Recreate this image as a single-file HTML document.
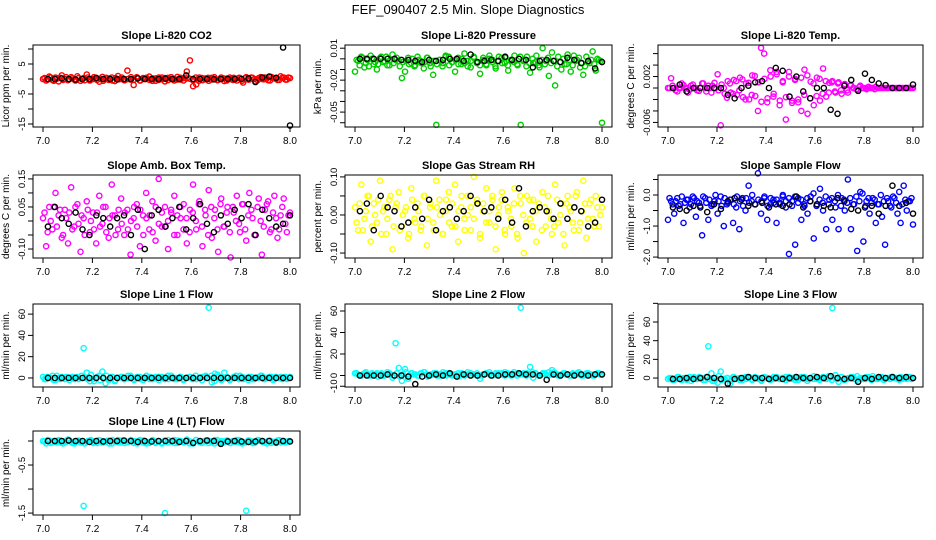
<!DOCTYPE html>
<html><head><meta charset="utf-8"><style>
body{margin:0;background:#fff}
svg{display:block;font-family:"Liberation Sans",sans-serif}
</style></head><body>
<svg id="c" width="936" height="540" viewBox="0 0 936 540">
<rect width="936" height="540" fill="#fff"/>
<text x="468" y="14" text-anchor="middle" font-size="13">FEF_090407  2.5 Min. Slope Diagnostics</text>
</svg>
<script>
const titles=["Slope Li-820 CO2","Slope Li-820 Pressure","Slope Li-820 Temp.","Slope Amb. Box Temp.","Slope Gas Stream RH","Slope Sample Flow","Slope Line 1 Flow","Slope Line 2 Flow","Slope Line 3 Flow","Slope Line 4 (LT) Flow"];
const yTitles=["Licor ppm per min.","kPa per min.","degrees C per min.","degrees C per min.","percent per min.","ml/min per min.","ml/min per min.","ml/min per min.","ml/min per min.","ml/min per min."];
const colors=["#ff0000","#00cc00","#ff00ff","#ff00ff","#ffff00","#0000ff","#00ffff","#00ffff","#00ffff","#00ffff"];
const xTicks=[7.0,7.2,7.4,7.6,7.8,8.0];
const yTickVals=[[10,5,0,-5,-10,-15],[0.01,0,-0.01,-0.02,-0.03,-0.04,-0.05,-0.06],[0.006,0.004,0.002,0,-0.002,-0.004,-0.006],[0.15,0.1,0.05,0,-0.05,-0.1],[0.1,0.05,0,-0.05,-0.1],[0.5,0,-0.5,-1,-1.5,-2],[60,40,20,0],[60,40,20,0,-10],[80,60,40,20,0],[0,-0.5,-1,-1.5]];
const yTickLabels=[["","5","","-5","","-15"],["0.01","","","-0.02","","","-0.05",""],["","","0.002","","","","-0.006"],["0.15","","0.05","","","-0.10"],["0.10","","0.00","","-0.10"],["","0.0","","-1.0","","-2.0"],["60","40","20","0"],["60","40","20","0","-10"],["","60","40","20","0"],["","-0.5","","-1.5"]];
const yDomains=[[11.33,-16],[0.013,-0.064],[0.0075,-0.0068],[0.164,-0.132],[0.105,-0.113],[0.645,-2.03],[69.5,-8.5],[66.5,-10.7],[79.3,-9.6],[0.208,-1.54]];
const xMin=7.0,xMax=8.0;
const colSeries=[
[0,-.5,.8,-.3,.5,-.8,1.2,0,-.4,.6,-.2,.9,-.6,.3,1.5,-.5,0,.4,-.9,.7,.2,-.3,.5,-.7,1,0,-.4,2.8,-.2,-2,.6,-.5,.3,0,.8,-.6,.2,-.3,.5,-.8,.4,0,-.5,.7,-.2,.3,2.5,6.2,-2.4,-1.8,.5,-.4,.2,-.6,.4,0,-.3,.5,-.7,.2,0,.4,-.5,.3,-1.2,.6,-.2,.4,-.8,.3,0,.5,-.4,.7,.2,-.3,.9,.5,-.2,.3],
[-.012,-.002,.002,-.008,-.001,.003,-.005,-.01,.001,-.003,.002,-.006,.004,-.001,-.002,-.018,-.012,.001,-.004,-.007,.002,-.002,-.009,.001,-.004,-.015,-.062,-.001,-.007,.003,.002,-.003,-.012,.001,-.005,.005,-.002,-.008,.002,-.004,-.014,.001,-.006,.003,-.001,-.009,.002,-.004,.001,-.011,-.002,.003,-.006,-.062,-.001,.002,-.013,-.004,.003,-.008,.01,-.002,-.016,.006,-.025,.002,-.01,-.005,.004,-.012,.003,-.001,-.008,-.015,.002,-.004,.007,-.011,-.001,-.06],
[0,.0017,0,-.0006,0,.0005,0,-.0003,.0006,0,-.0005,.0008,0,.0004,-.0008,.0009,.0024,-.0065,0,-.0017,.0008,-.001,.0012,-.0004,.0015,-.002,.0009,-.0012,.0021,-.004,.007,.006,-.0025,.0031,-.0015,.0028,-.003,.001,-.0055,.0028,-.0022,.0016,-.0025,-.004,.0032,-.0045,.0011,-.003,.0018,-.0022,.0034,-.0015,.0009,.0012,-.0008,.001,-.001,.0007,-.0008,.0005,0,-.0003,.0004,0,-.0002,0,0,.0002,0,0,0,0,0,0,0,0,0,0,0,0],
[.01,-.09,.05,-.03,.1,.02,-.06,.04,-.08,.12,-.02,.06,-.11,.01,.07,-.04,.03,-.08,.09,-.01,.05,-.06,.13,.02,-.03,.08,-.05,.04,-.12,.01,.06,-.09,.02,.1,-.03,.07,-.07,.15,-.02,.05,-.1,.03,.09,-.05,.01,.06,-.08,.04,.13,-.03,.07,-.09,.02,.11,-.06,.04,-.11,.08,-.02,.05,-.13,.03,.09,-.04,.06,-.07,.1,.01,-.05,.08,-.12,.04,.07,-.03,.09,-.06,.02,.08,-.04,.03],
[.02,-.04,.08,-.01,.05,-.07,.03,-.02,.09,.01,-.05,.04,-.09,.02,.06,-.03,.01,-.06,.07,-.01,.03,-.04,.05,-.08,.02,-.02,.09,.04,-.05,.01,.06,-.03,.08,-.07,.02,-.01,.05,-.04,.1,.03,-.06,.01,.07,-.02,.04,-.09,.02,.06,-.05,.01,-.03,.07,-.06,.03,-.1,.05,-.01,.04,-.07,.02,.06,-.03,.01,-.05,.08,-.02,.03,-.08,.05,.01,-.04,.06,-.02,.09,-.06,.03,-.01,.05,-.03,.02],
[-.8,-.2,-.6,-.1,-.3,-.9,-.15,-.4,-.05,-.7,-.25,-1.3,-.1,-.8,-.35,-.2,-.6,-.05,-1,-.3,-.15,-.9,-.4,-1.1,-.1,-.5,.3,-.2,-.3,.7,-.6,-.1,-.8,-.3,-.15,-.9,-.25,-.05,-.4,-1.9,-.2,-1.6,-.1,-.8,-.35,-.6,-.05,-1.4,-.3,.2,-.5,-1.1,-.15,-.8,-.4,-1.1,-.1,-.5,.5,-1.1,-.3,-1.8,.1,-1.5,-.2,-.6,-.1,-.9,-.3,-.7,-1.6,-.2,-.4,-.1,-.6,-.9,.3,-.5,-.2,-.95],
[1,-1,0,2,-2,0,1,-1,.5,0,-1,1,0,28,5,-3,-1,0,2,6,-5,-2,1,-3,0,1,-1,0,2,-1,0,1,-2,0,1,-1,0,1,0,-1,2,0,-1,0,1,-1,0,1,0,-1,0,1,2,66,-4,4,1,-2,5,0,-1,1,0,2,-1,0,1,-1,0,1,2,-1,0,1,-1,0,1,0,-1,1],
[2,1,0,2,1,0,1,2,1,0,1,2,-2,30,7,-5,6,-3,2,1,0,2,3,1,0,1,2,0,1,2,1,0,1,2,1,0,1,2,1,0,-3,1,2,1,0,2,1,2,3,1,0,1,2,63,1,2,8,-2,1,0,2,1,3,5,1,0,1,2,1,0,1,2,1,0,2,1,0,1,2,1],
[-1,0,-2,1,-1,0,-2,1,0,-1,1,0,-2,34,5,-3,-5,7,-1,0,-6,1,-1,0,-2,1,0,-1,1,0,-2,1,0,-1,1,0,-1,0,1,-1,0,1,-2,0,1,-1,0,2,-1,0,1,-1,0,75,3,-4,1,-2,0,1,-1,2,0,-1,1,0,2,-1,0,1,-1,0,1,0,-1,1,0,-1,1,0],
[0,-.05,.01,-.03,-.02,.02,-.04,-.01,.03,-.02,-.05,0,-.03,-1.35,-.02,.01,-.04,-.01,.02,-.03,-.02,.01,-.05,-.01,.02,-.03,0,-.02,.01,-.04,-.01,.02,-.03,-.05,-.02,.01,-.04,-.01,-.03,-1.5,.02,-.01,-.04,.01,-.02,-.03,.03,-.01,-.05,.02,-.02,-.03,.01,-.04,-.01,.02,-.03,0,-.02,.01,-.04,-.01,.02,-.03,-.03,-1.45,.01,-.04,-.02,.02,-.01,-.03,0,-.04,-.02,.01,-.03,0,-.02,-.01]
];
const bandSeries=[
[.3,-.2,.5,-.6,.1,.4,-.3,.6,-.1,.2,-.5,.3,0,-.4,.5,-.2,.6,-.3,.1,-.6,.4,.2,-.5,.3,-.1,.5,-.4,0,.6,-.2,.3,-.5,.1,.4,-.3,.2,-.6,.5,-.1,.3,-.4,.6,0,-.2,.4,-.5,.2,.1,-.3,.5,-.6,.3,-.1,.4,-.2,.6,-.4,0,.2,-.5,.5,-.3,.1,.4,-.6,.3,-.2,.5,0,-.4,.6,-.1,.2,-.5,.3,.1,-.3,.4,-.2,.5],
[-.001,-.006,.001,-.004,-.007,0,-.003,-.005,.002,-.002,-.006,-.001,-.004,.001,-.007,-.003,-.002,-.005,0,-.006,-.001,-.004,-.003,.001,-.007,-.002,-.005,-.001,-.004,.002,-.006,-.003,-.001,-.005,0,-.004,-.007,-.002,.001,-.003,-.006,-.001,-.005,0,-.003,-.007,-.002,.001,-.004,-.006,-.001,-.003,-.005,.002,-.002,-.007,-.004,0,-.003,-.006,-.001,-.005,.001,-.004,-.002,-.007,-.003,0,-.005,-.001,-.006,-.002,.001,-.004,-.007,-.003,-.001,-.005,0,-.002],
[0,.0004,-.0004,0,.0008,0,-.0008,.0004,0,-.0004,0,.0008,-.0006,0,.0004,0,-.0004,.0006,-.001,.0012,-.0008,.0014,-.0012,.0018,-.0016,.0008,-.002,.0022,-.0014,.001,-.0024,.0016,-.0018,.002,-.001,.0024,-.0022,.0012,-.0016,.002,-.0026,.0014,-.002,.0018,-.0012,.0022,-.0018,.0008,-.0014,.0016,-.001,.0012,-.0008,.001,-.0006,.0008,-.0004,.0006,-.0004,.0004,0,-.0002,.0002,0,0,.0002,0,-.0002,0,0,0,0,0,0,0,0,0,0,0,0],
[.03,-.04,0,.05,-.02,.04,-.05,.01,.03,-.03,.05,-.01,.02,-.05,.04,0,-.03,.03,-.02,.05,-.04,.01,.02,-.05,.04,-.01,.03,-.03,0,.05,-.02,.04,-.05,.01,.02,-.04,.05,-.01,.03,-.02,0,.04,-.05,.02,.05,-.03,.01,-.04,.03,0,.06,-.02,.04,-.05,.05,.01,-.03,.06,-.02,.03,-.04,.05,0,-.01,.06,-.03,.02,.04,-.05,.05,0,-.02,.06,-.04,.03,.01,-.03,.05,-.01,.02],
[-.02,.03,-.04,.01,.05,-.03,0,.04,-.05,.02,-.01,.05,-.03,.03,-.04,0,.02,-.05,.04,-.02,.01,-.03,.05,-.01,.03,-.04,.02,0,-.05,.04,-.02,.03,-.03,.01,.05,-.04,0,.02,-.01,.04,-.05,.03,-.02,.01,.05,-.03,0,.04,-.04,.02,-.01,.03,-.05,.05,0,-.02,.04,-.03,.01,.03,-.04,.02,.05,-.01,-.03,.04,0,-.05,.03,.02,-.02,.05,-.04,.01,.03,-.01,.04,-.03,.02,0],
[-.1,-.3,-.2,-.35,-.05,-.25,-.15,-.3,-.1,-.2,-.35,-.05,-.25,-.15,-.3,0,-.2,-.35,-.1,-.25,-.15,-.3,-.05,-.2,-.35,-.1,-.25,0,-.3,-.15,-.2,-.05,-.35,-.1,-.25,-.15,-.3,0,-.2,-.1,-.35,-.05,-.25,-.15,-.3,-.1,-.2,.05,-.35,-.15,-.25,-.05,-.3,-.1,-.2,0,-.35,-.15,-.25,-.1,-.3,-.05,-.2,.05,-.35,-.1,-.25,-.15,-.3,0,-.2,-.1,-.35,-.05,-.25,.1,-.3,-.15,-.2,-.1],
[-1,1,0,-2,2,-1,0,1,-2,1,0,-1,2,0,-1,3,-3,1,-2,0,2,-1,1,-2,0,1,-1,2,0,-2,1,-1,0,2,-1,0,1,-2,1,0,-1,2,0,-1,1,-2,0,1,-1,2,0,-2,1,0,2,-3,3,-1,0,1,-2,0,2,-1,1,0,-2,1,-1,0,2,-1,0,1,-2,1,0,-1,1,0],
[2,0,1,3,0,2,1,-1,2,0,3,1,0,2,-1,1,3,0,2,1,0,2,3,-1,1,2,0,1,3,0,2,1,0,-1,2,1,3,0,1,2,0,1,2,3,0,1,2,1,0,2,1,3,0,1,2,0,1,3,2,0,1,2,0,1,3,1,0,2,1,0,2,1,3,0,1,2,1,0,2,1],
[0,-2,-1,1,-2,0,-1,-3,1,-1,0,-2,1,-1,-3,0,2,-2,-1,0,-3,1,-1,-2,0,-1,1,-2,0,-1,-3,1,0,-2,-1,1,-1,0,-2,1,-1,-2,0,1,-1,-3,0,-1,1,-2,0,-1,2,-2,0,-1,1,-2,-1,0,1,-2,-1,0,-1,1,-2,0,-1,1,-2,0,-1,1,0,-2,-1,0,1,-1],
[-.01,.02,-.04,0,-.03,.01,-.05,-.02,.02,-.04,-.01,.01,-.03,-.05,0,.02,-.02,-.04,.01,-.03,0,-.05,.02,-.01,-.03,.01,-.04,-.02,.02,0,-.05,-.01,.01,-.03,-.04,.02,-.02,0,-.05,.01,-.03,-.01,.02,-.04,0,-.02,.01,-.05,-.03,.02,-.01,-.04,0,.01,-.02,-.05,.02,-.03,-.01,.01,-.04,0,-.02,.02,-.05,-.03,.01,-.01,-.04,.02,0,-.03,-.05,.01,-.02,-.04,.02,-.01,-.03,0]
];
const blackSeries=[
[0,0,.2,0,-.2,0,0,.3,0,0,-.1,0,0,.2,0,0,0,.1,0,0,1.2,0,0,0,-.1,0,0,0,0,.2,-1,.5,.8,.4,10.5,-15.5],
[0,0,0,0,0,0,-.001,-.001,-.002,-.003,-.001,-.002,-.001,0,0,-.002,.004,-.003,-.002,-.001,-.002,.002,-.001,0,-.001,-.008,-.002,-.001,-.002,-.003,.001,-.001,-.004,-.002,-.009,-.003],
[0,.0006,-.0006,0,0,0,0,0,-.0012,-.0018,0,.0004,.001,.0012,0,.0035,.003,-.0015,.002,-.0006,-.0018,0,0,-.0038,-.0045,.0004,.0014,-.0005,.0025,.0014,.0008,.0005,0,0,0,.0006],
[-.02,.05,.01,-.01,.03,-.03,-.05,.02,.01,-.02,.01,.02,-.05,.04,-.1,.02,.04,-.02,.01,.05,-.03,.01,.06,-.01,-.04,.02,-.01,.04,.01,.06,-.05,.04,.01,-.02,-.01,.02],
[.01,.03,-.04,.05,.02,.01,-.03,-.02,.02,-.01,.04,-.04,.01,.02,-.01,.01,.05,.03,.01,.02,-.01,.04,-.02,.07,-.03,.01,.02,.01,-.01,.03,-.01,.02,.01,-.03,-.02,.04],
[-.4,-.45,-.5,-.35,-.4,-.55,-.3,-.45,-.2,-.1,-.15,-.35,-.3,-.25,-.4,-.3,-.35,-.3,-.05,-.4,-.2,-.3,-.35,-.4,-.1,-.2,-.45,-.5,-.4,-.35,-.6,-.35,.3,-.35,-.25,-.6],
[0,0,0,0,0,0,0,0,0,0,0,0,0,0,0,0,0,0,0,0,0,0,0,0,0,0,0,0,0,0,0,0,0,0,0,0],
[0,0,0,0,1,0,0,-1,-8,-1,0,1,0,2,-1,1,0,0,1,0,0,1,1,2,1,1,0,-4,1,0,1,0,1,0,1,1],
[-1,-1,0,-1,0,1,0,-1,-6,-1,0,1,0,0,-1,0,-1,0,1,0,0,1,0,2,0,-1,0,-4,0,-1,1,0,1,0,1,0],
[0,0,0,.01,0,0,-.02,0,-.01,0,0,.01,0,-.02,0,-.01,0,0,0,-.02,0,-.04,0,.01,0,-.06,-.01,0,-.01,-.02,-.01,0,0,-.03,0,-.01]
];
const NS="http://www.w3.org/2000/svg";
const svg=document.getElementById('c');
const colL=[33,345,658],colR=[300,612,923];
const rowT=[45,175,304,431],rowH=[82,83,83,84];
function mk(tag,attrs,parent){const e=document.createElementNS(NS,tag);for(const k in attrs)e.setAttribute(k,attrs[k]);parent.appendChild(e);return e;}
for(let p=0;p<10;p++){
  const L=colL[p%3],R=colR[p%3],T=rowT[Math.floor(p/3)],B=T+rowH[Math.floor(p/3)];
  const xs=v=>L+10+(v-xMin)/(xMax-xMin)*(R-L-20);
  const [y0,y1]=yDomains[p];
  const ys=v=>T+(y0-v)/(y0-y1)*(B-T);
  const g=mk('g',{},svg);
  
  
  const t=mk('text',{x:(L+R)/2,y:T-6,'text-anchor':'middle','font-size':'11','font-weight':'bold'},g);
  t.textContent=titles[p];
  
  
  const yl=mk('text',{x:0,y:0,'text-anchor':'middle','font-size':'10',transform:`translate(${L-24},${(T+B)/2}) rotate(-90)`},g);
  yl.textContent=yTitles[p];
  
  
  const cg=mk('g',{fill:'none','stroke-width':'1.4',stroke:colors[p]},g);
  
  
  const bd=bandSeries[p];
  bd.forEach((v,i)=>{const c=mk('circle',{cx:xs(xMin+(i+0.5)/bd.length*(xMax-xMin)),cy:ys(v),r:2.6},cg);
    
    });
  const cs=colSeries[p];
  cs.forEach((v,i)=>{const c=mk('circle',{cx:xs(xMin+i/(cs.length-1)*(xMax-xMin)),cy:ys(v),r:2.6},cg);
    
    });
  const bg=mk('g',{fill:'none','stroke-width':'1.4',stroke:'#000'},g);
  
  
  const bs=blackSeries[p];
  bs.forEach((v,i)=>{const c=mk('circle',{cx:xs(7.02+i/(bs.length-1)*0.98),cy:ys(v),r:2.6},bg);
    
    });
  const box=mk('rect',{x:L,y:T,width:R-L,height:B-T,fill:'none',stroke:'#000','stroke-width':'1'},g);
  
  
  xTicks.forEach(v=>{const x=xs(v);mk('line',{x1:x,x2:x,y1:B,y2:B+5,stroke:'#000'},g);
    const tx=mk('text',{x:x,y:B+17,'text-anchor':'middle','font-size':'10'},g);tx.textContent=v.toFixed(1);
    
    });
  yTickVals[p].forEach((v,i)=>{const y=ys(v);if(y<T-1||y>B+6)return;mk('line',{x1:L-5,x2:L,y1:y,y2:y,stroke:'#000'},g);
    const lab=yTickLabels[p][i];if(!lab)return;
    const tx=mk('text',{x:0,y:0,'text-anchor':'middle','font-size':'9.5',transform:`translate(${L-8},${y}) rotate(-90)`},g);tx.textContent=lab;
    
    });
}
</script>
</body></html>
